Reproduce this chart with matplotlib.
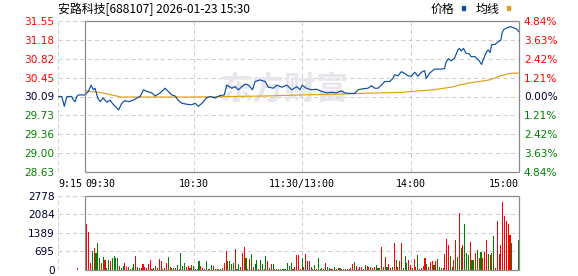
import matplotlib.pyplot as plt
from matplotlib.patches import Rectangle

plt.rcParams['font.family'] = ['DejaVu Sans']

title = "安路科技[688107] 2026-01-23 15:30"
prev_close = 30.09
price_ticks = [31.55, 31.18, 30.82, 30.45, 30.09, 29.73, 29.36, 29.00, 28.63]
pct_labels = ["4.84%", "3.63%", "2.42%", "1.21%", "0.00%", "1.21%", "2.42%", "3.63%", "4.84%"]
vol_ticks = [0, 695, 1389, 2084, 2778]
x_ticks = [-15, 0, 60, 120, 180, 240]
x_labels = ["9:15", "09:30", "10:30", "11:30/13:00", "14:00", "15:00"]

# minutes after 09:30 (13:00 carries on at 120), pre-market is negative
price_t = [-14.8, -12.9, -11.5, -10.1, -7.4, -6.5, -5.5, -4.6, -3.7, 0,
           1.8, 3.3, 4.6, 5.5, 7, 8.3, 10, 12, 13.8, 15.7, 17.5, 18.5, 20.3, 22, 24,
           26.7, 28.6, 30.4, 32.3, 34.1, 36.9, 38.7, 41.5, 44.2, 46, 47.9, 49.8,
           51.6, 53.5, 56.2, 59, 60.8, 62.6, 65, 67, 69, 71.9, 74.7, 77, 78.3, 79.3,
           81.1, 83, 84.8, 86.7, 88.5, 90.4, 92.6, 94, 96.8, 99.6, 101.4, 104.2, 106,
           108.8, 111.6, 114.3, 117.1, 118.9, 120, 122.4, 125.2, 128, 130.7, 133.5,
           136.3, 139, 141.8, 143.6, 146.4, 149.1, 151, 153.8, 156.5, 158.4, 160.2,
           162, 163.9, 165.7, 168.5, 170.3, 171.2, 173.1, 174.9, 176.7, 178.6, 180.4,
           182.3, 184.1, 186, 187.8, 188.7, 190.5, 193.3, 197, 198.8, 199.7, 201,
           202.5, 204.3, 206.2, 207, 208, 209.3, 210.7, 212.6, 213.5, 215.7, 216.6,
           218, 219.3, 220.2, 222.1, 223, 224, 224.9, 226.8, 228.6, 230, 230.6,
           231.4, 233.3, 235.1, 237, 238.8, 240]
price_v = [30.09, 30.09, 29.90, 30.09, 30.09, 30.02, 29.99, 30.09, 30.12, 30.12,
           30.19, 30.31, 30.22, 30.25, 30.06, 29.99, 30.06, 29.98, 30.02, 29.93, 29.87, 29.83, 29.96, 30.01, 29.99,
           30.02, 30.06, 30.09, 30.22, 30.19, 30.16, 30.10, 30.16, 30.25, 30.19, 30.12, 30.10,
           30.01, 29.96, 29.94, 29.93, 29.96, 29.90, 29.97, 30.06, 30.09, 30.06, 30.11, 30.12, 30.31, 30.29,
           30.25, 30.28, 30.22, 30.28, 30.33, 30.31, 30.22, 30.38, 30.41, 30.38, 30.27, 30.25, 30.31,
           30.27, 30.31, 30.22, 30.28, 30.22, 30.31, 30.25, 30.22, 30.23, 30.19, 30.16,
           30.17, 30.16, 30.20, 30.16, 30.15, 30.15, 30.22, 30.24, 30.25, 30.30, 30.25,
           30.25, 30.31, 30.38, 30.38, 30.44, 30.51, 30.49, 30.57, 30.54, 30.49, 30.48,
           30.56, 30.48, 30.56, 30.59, 30.44, 30.54, 30.62, 30.62, 30.63, 30.76, 30.82,
           30.78, 30.83, 30.99, 31.02, 30.97, 31.02, 30.93, 30.91, 30.86, 30.86, 30.83,
           30.78, 30.71, 30.80, 30.96, 30.99, 30.94, 31.09, 31.10, 31.15, 31.18, 31.31,
           31.38, 31.42, 31.44, 31.42, 31.39, 31.34]

avg_t = [0, 2, 8, 12, 16, 20, 40, 60, 80, 100, 120, 145, 150, 165, 175,
         185, 193, 204, 206.5, 214, 223.6, 229, 233, 236, 240]
avg_v = [30.20, 30.19, 30.17, 30.14, 30.11, 30.08, 30.08, 30.08, 30.09, 30.10, 30.12, 30.14, 30.15, 30.16, 30.17,
         30.20, 30.22, 30.28, 30.31, 30.36, 30.41, 30.48, 30.52, 30.54, 30.54]

# volume per minute, 09:30 .. 15:00
vol = [0,
       1725, 1415, 250, 713, 812, 625, 1025, 437, 250, 500,
       375, 60, 375, 340, 437, 525, 437, 437, 150, 80,
       150, 250, 100, 100, 40, 60, 225, 525, 125, 60,
       90, 225, 125, 60, 225, 375, 40, 60, 150, 60,
       412, 350, 40, 90, 250, 475, 125, 90, 60, 60,
       175, 40, 637, 150, 250, 125, 150, 90, 190, 150,
       40, 40, 340, 150, 60, 40, 340, 40, 40, 190,
       150, 40, 40, 40, 40, 60, 250, 713, 340, 340,
       225, 275, 787, 40, 225, 125, 650, 875, 450, 40,
       412, 600, 100, 225, 375, 40, 375, 225, 40, 525,
       340, 90, 225, 225, 40, 40, 40, 40, 40, 40,
       40, 262, 150, 262, 40, 125, 562, 562, 40, 450,
       125, 600, 325, 350, 125, 40, 190, 40, 450, 40,
       75, 40, 262, 100, 75, 40, 40, 100, 40, 75,
       75, 40, 40, 40, 40, 40, 60, 225, 300, 150,
       40, 100, 100, 40, 190, 150, 100, 100, 60, 100,
       190, 90, 90, 875, 100, 475, 100, 237, 60, 100,
       1025, 375, 100, 350, 1025, 60, 525, 275, 375, 190,
       60, 425, 100, 562, 25, 60, 150, 437, 225, 100,
       312, 337, 190, 337, 412, 100, 75, 75, 600, 1175,
       937, 525, 100, 375, 1125, 475, 2125, 825, 937, 1725,
       650, 562, 1062, 375, 375, 650, 750, 437, 687, 437,
       687, 1125, 600, 575, 650, 1275, 60, 1850, 600, 937,
       2562, 2037, 1850, 1725, 1312, 1025, 0, 0, 0, 1125]
vol_dir = ("g"
           "rrrgrgggrg" "rggrggggrg" "grrgrggrrg" "rrrrrrrggr" "rrrrrgrggr"
           "grgggrrgrg" "gggrrrgrrg" "rgrggrrrgg" "ggrggrrrgg" "rgrggrggrg"
           "rrrgrrgggg" "ggggrrrrgg" "rrrrgrgrgr" "grrggrrgrr" "ggrrrgrrgr"
           "rrrrgrrgrr" "gggrrrgrrg" "rgrrrgggrr" "grrgrrrrgr" "rrgrrggrrr"
           "rggrrgrgrg" "ggrggrgrgr" "rrgrggrrrr" "rrrrrgrrrg")
pre_vol_t = [-4]
pre_vol = [60]

blue = '#0c4ea2'
gold = '#e0a01c'
grid_c = '#cfcfcf'
frame_c = '#8a8a8a'
red = '#ff0000'
green = '#008000'
dark = '#000033'
dash = (0, (4, 3))

W, H = 578, 276


def box(l, t, r, b):
    return [l / W, 1 - b / H, (r - l) / W, (b - t) / H]


fig = plt.figure(figsize=(W / 100, H / 100), dpi=100)
ax = fig.add_axes(box(58, 21, 519, 172))
axv = fig.add_axes(box(58, 196, 519, 270))

# price panel
lo, hi = price_ticks[-1], price_ticks[0]
ax.set_xlim(x_ticks[0], x_ticks[-1])
ax.set_ylim(lo, hi)
for y in price_ticks:
    ax.axhline(y, color=grid_c, lw=0.75, ls=dash, zorder=0)
for x in [x_ticks[0], 60, 120, 180]:
    ax.axvline(x, color=grid_c, lw=0.75, ls=dash, zorder=0)
ax.hlines([lo, hi], 0, 240, color=frame_c, lw=0.9, zorder=5, clip_on=False)
ax.vlines([0, 240], lo, hi, color=frame_c, lw=0.9, zorder=5, clip_on=False)
for s in ax.spines.values():
    s.set_visible(False)

ax.text(0.49, 0.54, "东方财富", transform=ax.transAxes, fontsize=23, color='#e6e6eb',
        fontweight='bold', family='Noto Sans CJK SC', ha='center', va='center', zorder=1)

ax.plot(avg_t, avg_v, color=gold, lw=0.85, zorder=3)
ax.plot(price_t, price_v, color=blue, lw=0.85, zorder=4)

ax.set_yticks(price_ticks, labels=[f"{v:.2f}" for v in price_ticks])
ax.tick_params(axis='y', length=0, pad=2.5, labelsize=7.6)
for lab, v in zip(ax.get_yticklabels(), price_ticks):
    lab.set_color(red if v > prev_close else green if v < prev_close else dark)

ax.set_xticks(x_ticks, labels=x_labels)
ax.tick_params(axis='x', length=0, pad=5, labelsize=7.2)
for lab in ax.get_xticklabels():
    lab.set_family('DejaVu Sans Mono')
xl = ax.get_xticklabels()
xl[0].set_ha('left')
xl[1].set_ha('left')
xl[-1].set_ha('right')

ax2 = ax.twinx()
ax2.set_ylim(lo, hi)
ax2.set_yticks(price_ticks, labels=pct_labels)
ax2.tick_params(axis='y', length=0, pad=3.5, labelsize=7.6)
for lab, v in zip(ax2.get_yticklabels(), price_ticks):
    lab.set_color(red if v > prev_close else green if v < prev_close else dark)
for s in ax2.spines.values():
    s.set_visible(False)

# volume panel
vmax = vol_ticks[-1]
axv.set_xlim(x_ticks[0], x_ticks[-1])
axv.set_ylim(0, vmax)
for y in vol_ticks:
    axv.axhline(y, color=grid_c, lw=0.75, ls=dash, zorder=0)
for x in [x_ticks[0], 60, 120, 180]:
    axv.axvline(x, color=grid_c, lw=0.75, ls=dash, zorder=0)
axv.hlines([0, vmax], 0, 240, color=frame_c, lw=0.9, zorder=5, clip_on=False)
axv.vlines([0, 240], 0, vmax, color=frame_c, lw=0.9, zorder=5, clip_on=False)
for s in axv.spines.values():
    s.set_visible(False)

colors = [red if c == 'r' else green for c in vol_dir]
axv.bar(range(len(vol)), vol, width=0.6, color=colors, lw=0, antialiased=False, zorder=3)
axv.bar(pre_vol_t, pre_vol, width=0.6, color=red, lw=0, antialiased=False, zorder=3)

axv.set_yticks(vol_ticks, labels=[str(v) for v in vol_ticks])
axv.tick_params(axis='y', length=0, pad=2.5, labelsize=7.6, labelcolor=dark)
axv.set_xticks([])

# title and legend
fig.text(58 / W, 1 - 9 / H, title, ha='left', va='center', fontsize=8.6,
         family=['Noto Sans CJK SC', 'DejaVu Sans'])
fig.text(431 / W, 1 - 9 / H, "价格", ha='left', va='center', fontsize=8.6,
         family='Noto Sans CJK SC')
fig.text(476 / W, 1 - 9 / H, "均线", ha='left', va='center', fontsize=8.6,
         family='Noto Sans CJK SC')
fig.add_artist(Rectangle((462 / W, 1 - 9.5 / H), 3 / W, 3 / H, color=blue,
                         transform=fig.transFigure))
fig.add_artist(Rectangle((507 / W, 1 - 9.5 / H), 3 / W, 3 / H, color=gold,
                         transform=fig.transFigure))

fig.savefig("out.png", dpi=100)
